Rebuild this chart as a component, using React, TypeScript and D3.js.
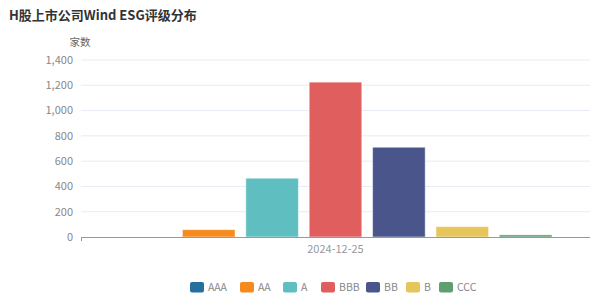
import React from "react";
import * as d3 from "d3";

const title = "H股上市公司Wind ESG评级分布";
const yAxisName = "家数";
const category = ["2024-12-25"];
const grades = ["AAA", "AA", "A", "BBB", "BB", "B", "CCC"];
const counts = [0, 58, 465, 1225, 710, 82, 17];
const colors = ["#25709f", "#f78a1d", "#5fbfc0", "#e05e5e", "#4a568b", "#e6c65a", "#5f9e70"];
const yTicks = [0, 200, 400, 600, 800, 1000, 1200, 1400];

const W = 600, H = 295;
const left = 81, right = 590, top = 60, bottom = 237;
const font = "'Microsoft YaHei', 'Noto Sans CJK SC', 'Noto Sans', sans-serif";

export default function App() {
  const x0 = d3.scaleBand<string>().domain(category).range([left, right]).padding(0);
  const x1 = d3.scaleBand<string>().domain(grades).range([0, x0.bandwidth()]).paddingInner(0.17).paddingOuter(0.6);
  const y = d3.scaleLinear().domain([0, 1400]).range([bottom, top]);
  const fmt = d3.format(",");

  // legend layout
  const legendX = [190, 240, 283, 321, 366, 406, 439];

  return (
    <svg width={W} height={H} style={{ position: "absolute", left: 0, top: 0, fontFamily: font, background: "#fff" }}>
      <text x={9} y={20} fontSize={13} fontWeight="bold" fill="#333">{title}</text>
      <text x={80} y={46} fontSize={10.5} fill="#666" textAnchor="middle">{yAxisName}</text>
      {yTicks.map((t) => (
        <g key={t}>
          {t !== 0 && <line x1={left} x2={right} y1={y(t)} y2={y(t)} stroke="#e6ebf5" strokeWidth={1} />}
          <text x={73} y={y(t)} dy="0.35em" textAnchor="end" fontSize={11} fill="#888">{fmt(t)}</text>
        </g>
      ))}
      {category.map((c) => (
        <g key={c}>
          {grades.map((g, i) => {
            const bx = x0(c)! + x1(g)!;
            const by = y(counts[i]);
            return counts[i] > 0 ? (
              <rect key={g} x={bx} y={by} width={x1.bandwidth()} height={bottom - by}
                fill={colors[i]} stroke="#ffffff" strokeOpacity={0.5} strokeWidth={1} />
            ) : null;
          })}
          <text x={x0(c)! + x0.bandwidth() / 2} y={249} dy="0.35em" textAnchor="middle" fontSize={11} fill="#999">{c}</text>
        </g>
      ))}
      <line x1={left} x2={right} y1={bottom + 0.5} y2={bottom + 0.5} stroke="#999" strokeWidth={1} />
      <line x1={left + 0.5} x2={left + 0.5} y1={bottom} y2={bottom + 4} stroke="#999" strokeWidth={1} />
      {grades.map((g, i) => (
        <g key={g} transform={`translate(${legendX[i]},282)`}>
          <rect x={0} y={0} width={14} height={10.5} rx={2} fill={colors[i]} />
          <text x={18} y={5.5} dy="0.35em" fontSize={10.5} fill="#888">{g}</text>
        </g>
      ))}
    </svg>
  );
}
